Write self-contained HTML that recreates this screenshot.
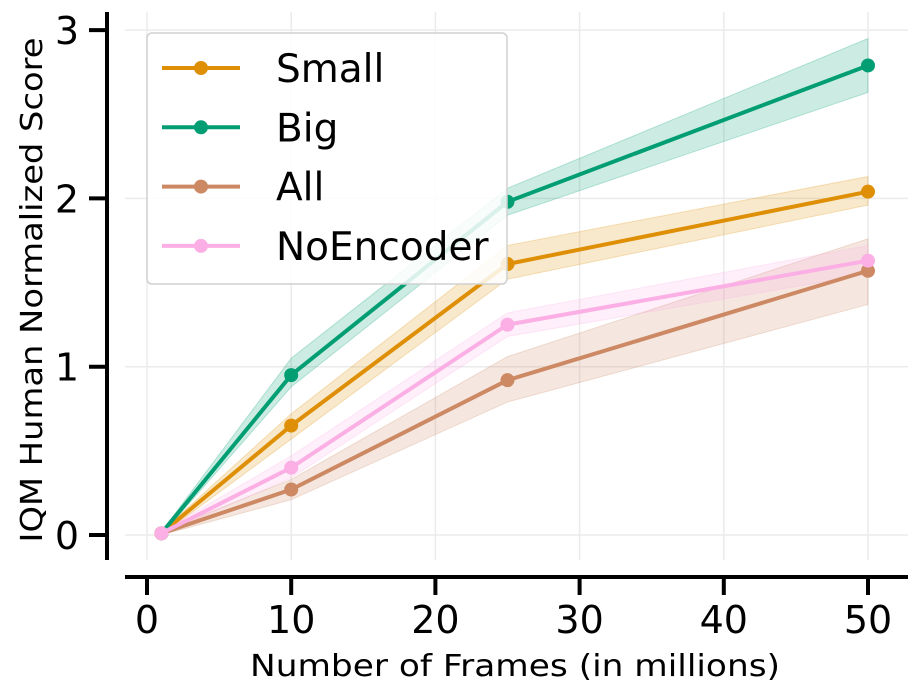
<!DOCTYPE html>
<html><head><meta charset="utf-8"><style>
body{margin:0;background:#fff}
svg{display:block;font-family:"DejaVu Sans","Liberation Sans",sans-serif}
</style></head><body>
<svg id="chart" width="921" height="698" viewBox="0 0 921 698"></svg>
<script>
const frames=[1,10,25,50];
const seriesNames=["Small","Big","All","NoEncoder"];
const seriesColors=["#de8f05","#029e73","#cc8963","#fbafe4"];
const smallVals=[0.01,0.65,1.61,2.04];
const smallLo=[0.0,0.57,1.52,1.96];
const smallHi=[0.02,0.72,1.72,2.13];
const bigVals=[0.01,0.95,1.98,2.79];
const bigLo=[0.0,0.88,1.90,2.63];
const bigHi=[0.02,1.05,2.06,2.95];
const allVals=[0.01,0.27,0.92,1.57];
const allLo=[0.0,0.21,0.79,1.37];
const allHi=[0.02,0.33,1.06,1.76];
const noEncVals=[0.01,0.40,1.25,1.63];
const noEncLo=[0.0,0.34,1.18,1.55];
const noEncHi=[0.02,0.47,1.32,1.72];
const xTicks=[0,10,20,30,40,50];
const yTicks=[0,1,2,3];

const NS="http://www.w3.org/2000/svg";
const svg=document.getElementById('chart');
const X=v=>147+v*14.42;
const Y=v=>535-v*168.3;
function mk(t,a,p){const e=document.createElementNS(NS,t);for(const k in a)e.setAttribute(k,a[k]);(p||svg).appendChild(e);return e;}

xTicks.forEach(t=>{const g=mk('line',{x1:X(t),x2:X(t),y1:12,y2:560,stroke:'#ebebeb','stroke-width':1.5});

});
yTicks.forEach(t=>{const g=mk('line',{x1:125,x2:908,y1:Y(t),y2:Y(t),stroke:'#ebebeb','stroke-width':1.5});

});

const all=[[smallVals,smallLo,smallHi],[bigVals,bigLo,bigHi],[allVals,allLo,allHi],[noEncVals,noEncLo,noEncHi]];
all.forEach((s,i)=>{
 const pts=frames.map((f,j)=>X(f)+','+Y(s[2][j])).concat(frames.slice().reverse().map((f,j)=>X(f)+','+Y(s[1][frames.length-1-j])));
 const b=mk('polygon',{points:pts.join(' '),fill:seriesColors[i],'fill-opacity':0.2,stroke:seriesColors[i],'stroke-opacity':0.25});
 
 
});
all.forEach((s,i)=>{
 const l=mk('polyline',{points:frames.map((f,j)=>X(f)+','+Y(s[0][j])).join(' '),fill:'none',stroke:seriesColors[i],'stroke-width':4});
 
 
 frames.forEach((f,j)=>{const c=mk('circle',{cx:X(f),cy:Y(s[0][j]),r:7,fill:seriesColors[i]});
 
 });
});

let a=mk('line',{x1:107,x2:107,y1:12,y2:560,stroke:'#000','stroke-width':4});


a=mk('line',{x1:125,x2:908,y1:577,y2:577,stroke:'#000','stroke-width':4});


xTicks.forEach(t=>{
 mk('line',{x1:X(t),x2:X(t),y1:577,y2:595,stroke:'#000','stroke-width':4});
 const tx=mk('text',{x:X(t),y:633,'text-anchor':'middle','font-size':38});tx.textContent=t;
 
 
});
yTicks.forEach(t=>{
 mk('line',{x1:89,x2:107,y1:Y(t),y2:Y(t),stroke:'#000','stroke-width':4});
 const tx=mk('text',{x:79,y:Y(t)+14,'text-anchor':'end','font-size':38});tx.textContent=t;
 
 
});
let t=mk('text',{x:515,y:676,'text-anchor':'middle','font-size':30,textLength:530,lengthAdjust:'spacingAndGlyphs'});t.textContent='Number of Frames (in millions)';


t=mk('text',{x:0,y:0,'text-anchor':'middle','font-size':30,textLength:505,lengthAdjust:'spacingAndGlyphs',transform:'translate(42,290) rotate(-90)'});t.textContent='IQM Human Normalized Score';



const lg=mk('g',{});


mk('rect',{x:147,y:33,width:360,height:251,rx:5,fill:'#fff','fill-opacity':0.85,stroke:'#d0d0d0','stroke-width':1.5},lg);
seriesNames.forEach((n,i)=>{
 const y=68+i*59.3;
 const e=mk('g',{},lg);
 
 
 mk('line',{x1:162,x2:240,y1:y,y2:y,stroke:seriesColors[i],'stroke-width':4},e);
 mk('circle',{cx:201,cy:y,r:7,fill:seriesColors[i]},e);
 const tt=mk('text',{x:276,y:y+14,'font-size':39},e);tt.textContent=n;
});
</script>
</body></html>
